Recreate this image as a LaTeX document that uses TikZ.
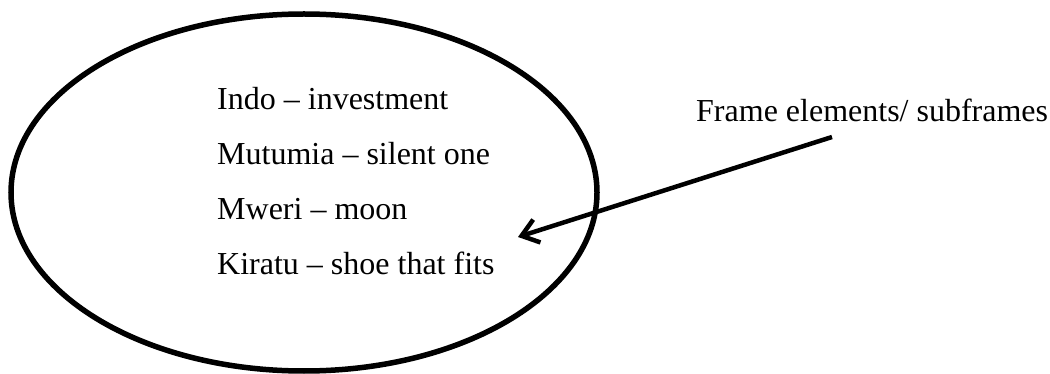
\documentclass[tikz,border=0pt]{standalone}
\usepackage{fontspec}
\setmainfont{Liberation Serif}
\usetikzlibrary{arrows.meta,shapes.geometric}
\begin{document}
\begin{tikzpicture}[x=1pt,y=-1pt,
  item/.style={anchor=base west, inner sep=0pt, font=\fontsize{32}{38}\selectfont},
  outline/.style={draw, line width=5.5pt, ellipse, inner sep=0pt,
                  minimum width=586pt, minimum height=357pt},
  pointer/.style={line width=4.5pt, -{Straight Barb[length=16pt,width=24pt]}}]
\useasboundingbox (0,0) rectangle (1050,374);

% the frame
\node[outline] (frame) at (304,192.5) {};

% its elements
\node[item] (indo)    at (217,110) {Indo – investment};
\node[item] (mutumia) at (217,165) {Mutumia – silent one};
\node[item] (mweri)   at (217,220) {Mweri – moon};
\node[item] (kiratu)  at (217,275) {Kiratu – shoe that fits};

% label and pointer
\node[item] (label) at (696,122) {Frame elements/ subframes};
\coordinate (tail) at (832,137);
\coordinate (tip)  at (518,237);
\draw[pointer] (tail) -- (tip);
\end{tikzpicture}
\end{document}
